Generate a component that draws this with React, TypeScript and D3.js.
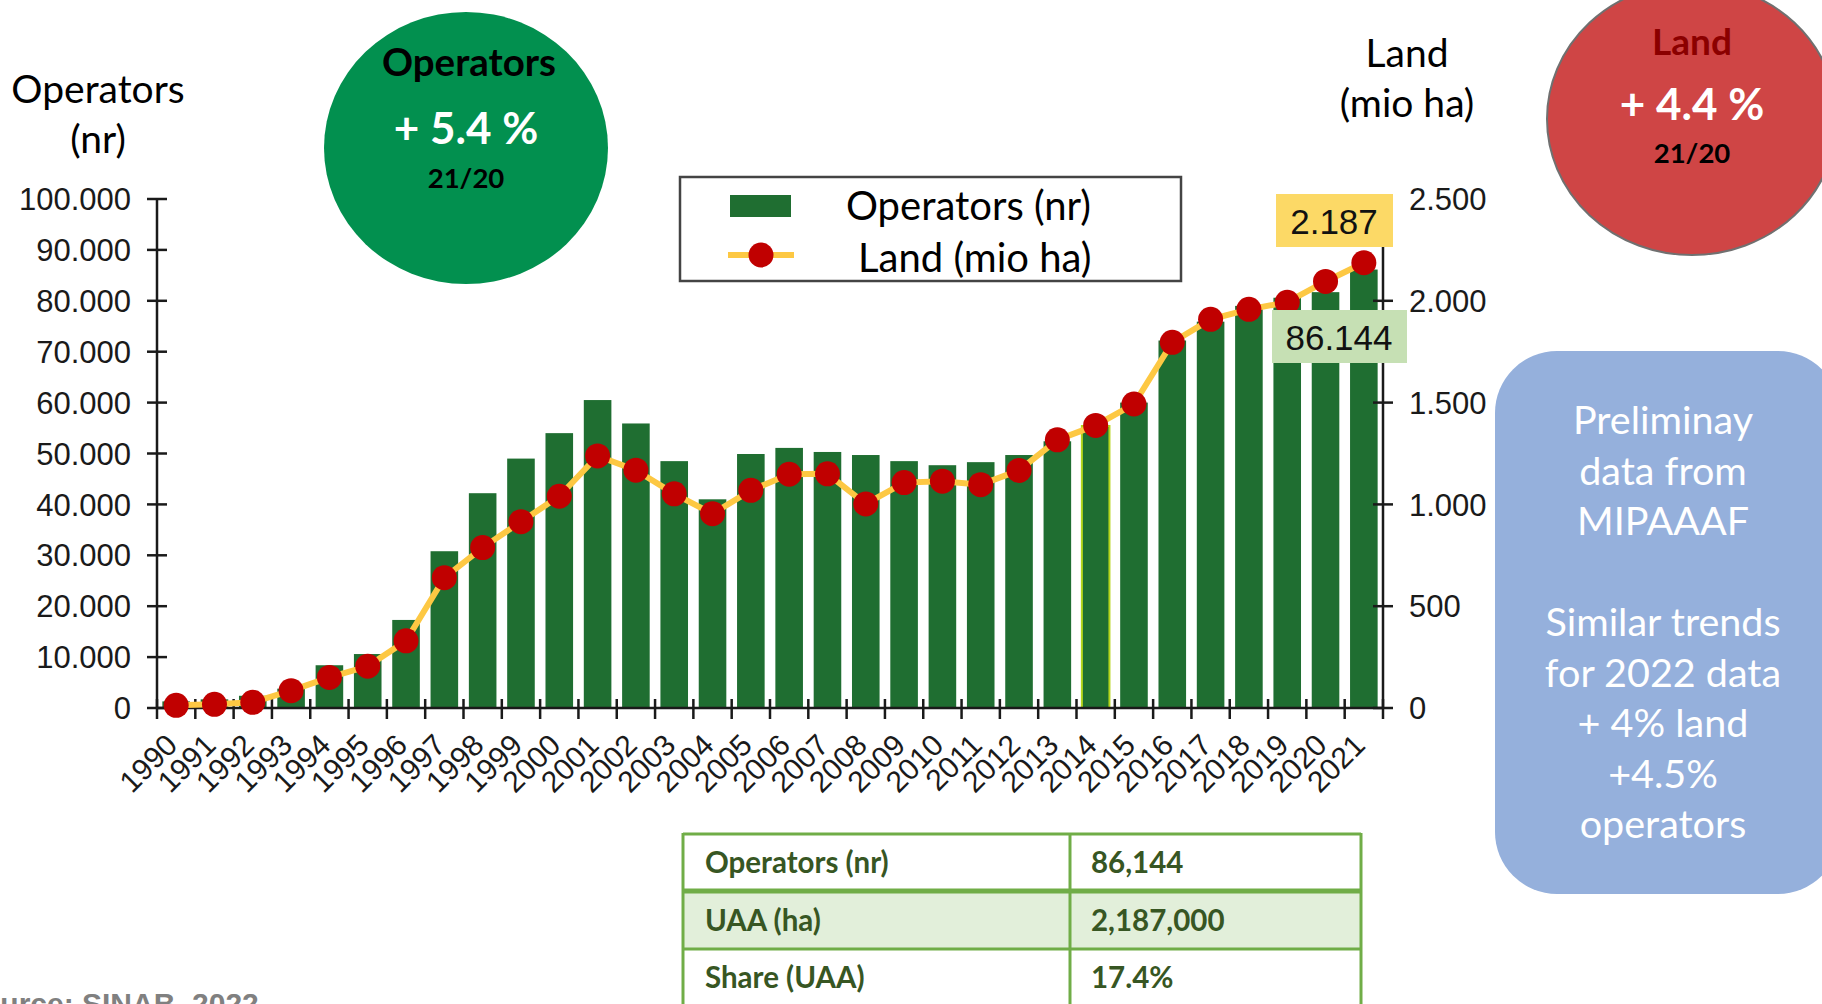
import React from 'react';
import * as d3 from 'd3';

// organic operators and land in Italy, 1990-2021
const years = ['1990', '1991', '1992', '1993', '1994', '1995', '1996', '1997', '1998', '1999',
  '2000', '2001', '2002', '2003', '2004', '2005', '2006', '2007', '2008', '2009', '2010',
  '2011', '2012', '2013', '2014', '2015', '2016', '2017', '2018', '2019', '2020', '2021'];
const operators = [1300, 1700, 2400, 3800, 8400, 10600, 17300, 30800, 42200, 49000,
  54000, 60500, 55900, 48500, 41000, 49900, 51100, 50300, 49700, 48500, 47700,
  48300, 49700, 52400, 55400, 60000, 72200, 75900, 79000, 80600, 81700, 86144];
const land = [13, 18, 28, 85, 150, 205, 330, 640, 788, 915,
  1040, 1238, 1168, 1052, 954, 1069, 1148, 1150, 1002, 1107, 1114,
  1097, 1167, 1317, 1388, 1493, 1796, 1909, 1958, 1993, 2095, 2187];
const leftTicks = [0, 10000, 20000, 30000, 40000, 50000, 60000, 70000, 80000, 90000, 100000];
const rightTicks = [0, 500, 1000, 1500, 2000, 2500];

const tableRows = ['Operators (nr)', 'UAA (ha)', 'Share (UAA)'];
const tableValues = ['86,144', '2,187,000', '17.4%'];
const noteLines = ['Preliminay', 'data from', 'MIPAAAF', '', 'Similar trends', 'for 2022 data', '+ 4% land', '+4.5%', 'operators'];

const calibri = 'Lato, "Open Sans", sans-serif';
const arial = '"Liberation Sans", Arial, sans-serif';

const itFormat = d3.formatLocale({decimal: ',', thousands: '.', grouping: [3], currency: ['', '']}).format(',');

export default function App() {
  const W = 1822, H = 1004;
  const top = 199, bottom = 708, left = 157, right = 1383;

  const x = d3.scaleBand().domain(years).range([left, right]).paddingInner(0.28).paddingOuter(0.14);
  const yL = d3.scaleLinear().domain([0, 100000]).range([bottom, top]);
  const yR = d3.scaleLinear().domain([0, 2500]).range([bottom, top]);
  const cx = (y) => x(y) + x.bandwidth() / 2;

  // tick positions between bars
  const edges = years.map((y) => cx(y) - x.step() / 2).concat([right]);

  const line = d3.line().x((d, i) => cx(years[i])).y((d) => yR(d));

  const last = years.length - 1;

  return (
    <svg width={W} height={H} style={{position: 'absolute', left: 0, top: 0, background: '#fff'}}>
      {/* bubbles */}
      <ellipse cx={466} cy={148} rx={142} ry={136} fill="#02904f" />
      <text x={469} y={76} textAnchor="middle" fontFamily={calibri} fontWeight="bold" fontSize={38.5} fill="#000">Operators</text>
      <text x={466} y={144} textAnchor="middle" fontFamily={calibri} fontWeight="bold" fontSize={44} fill="#fff">+ 5.4 %</text>
      <text x={466} y={188} textAnchor="middle" fontFamily={calibri} fontWeight="bold" fontSize={27.5} fill="#000">21/20</text>

      <ellipse cx={1692} cy={119} rx={145} ry={136} fill="#cf4545" stroke="#707070" strokeWidth={2} />
      <text x={1692} y={55} textAnchor="middle" fontFamily={calibri} fontWeight="bold" fontSize={37} fill="#8b0000">Land</text>
      <text x={1692} y={120} textAnchor="middle" fontFamily={calibri} fontWeight="bold" fontSize={44} fill="#fff">+ 4.4 %</text>
      <text x={1692} y={163} textAnchor="middle" fontFamily={calibri} fontWeight="bold" fontSize={27.5} fill="#000">21/20</text>

      {/* axis titles */}
      <text x={98} y={103} textAnchor="middle" fontFamily={calibri} fontSize={39} fill="#000">Operators</text>
      <text x={98} y={153} textAnchor="middle" fontFamily={calibri} fontSize={39} fill="#000">(nr)</text>
      <text x={1407} y={67} textAnchor="middle" fontFamily={calibri} fontSize={39} fill="#000">Land</text>
      <text x={1407} y={117} textAnchor="middle" fontFamily={calibri} fontSize={39} fill="#000">(mio ha)</text>

      {/* bars */}
      {operators.map((v, i) => (
        <rect key={years[i]} x={x(years[i])} y={yL(v)} width={x.bandwidth()} height={bottom - yL(v)}
          fill="#1f6e31" stroke={years[i] === '2014' ? '#b5d51c' : 'none'} strokeWidth={2} />
      ))}

      {/* axes */}
      <g stroke="#1a1a1a" strokeWidth={2.5}>
        <line x1={left} x2={left} y1={top} y2={bottom} />
        <line x1={right} x2={right} y1={top} y2={bottom} />
        <line x1={left} x2={right} y1={bottom} y2={bottom} />
        {leftTicks.map((t) => <line key={t} x1={left - 10} x2={left + 10} y1={yL(t)} y2={yL(t)} />)}
        {rightTicks.map((t) => <line key={t} x1={right - 10} x2={right + 10} y1={yR(t)} y2={yR(t)} />)}
        {edges.map((e, i) => <line key={i} x1={e} x2={e} y1={bottom - 9} y2={bottom + 11} />)}
      </g>
      {leftTicks.map((t) => (
        <text key={t} x={left - 26} y={yL(t)} dy="0.36em" textAnchor="end" fontFamily={arial} fontSize={31} fill="#1a1a1a">{itFormat(t)}</text>
      ))}
      {rightTicks.map((t) => (
        <text key={t} x={right + 26} y={yR(t)} dy="0.36em" textAnchor="start" fontFamily={arial} fontSize={31} fill="#1a1a1a">{itFormat(t)}</text>
      ))}
      {years.map((y) => (
        <text key={y} transform={`translate(${cx(y) + 3},${bottom + 39}) rotate(-45)`} textAnchor="end"
          fontFamily={arial} fontSize={30} fill="#1a1a1a">{y}</text>
      ))}

      {/* land line */}
      <path d={line(land)} fill="none" stroke="#fdc843" strokeWidth={6} />
      {land.map((v, i) => <circle key={years[i]} cx={cx(years[i])} cy={yR(v)} r={12.5} fill="#c00000" />)}

      {/* value labels for 2021 */}
      <rect x={1276} y={194} width={117} height={53} fill="#fcd966" />
      <text x={1334} y={221} dy="0.36em" textAnchor="middle" fontFamily={arial} fontSize={35} fill="#111">{itFormat(land[last])}</text>
      <rect x={1272} y={310} width={135} height={53} fill="#c6e0b4" />
      <text x={1339} y={337} dy="0.36em" textAnchor="middle" fontFamily={arial} fontSize={35} fill="#111">{itFormat(operators[last])}</text>

      {/* legend */}
      <rect x={680} y={177} width={501} height={104} fill="#fff" stroke="#444" strokeWidth={2.5} />
      <rect x={730} y={195} width={61} height={22} fill="#1f6e31" />
      <text x={846} y={220} fontFamily={calibri} fontSize={40} fill="#000">Operators (nr)</text>
      <line x1={728} x2={794} y1={255} y2={255} stroke="#fdc843" strokeWidth={6} />
      <circle cx={761} cy={255} r={12.5} fill="#c00000" />
      <text x={858} y={272} fontFamily={calibri} fontSize={40} fill="#000">Land (mio ha)</text>

      {/* note box */}
      <rect x={1495} y={351} width={345} height={543} rx={62} fill="#95b0dc" />
      {noteLines.map((t, i) => (
        <text key={i} x={1663} y={434 + i * 50.5} textAnchor="middle" fontFamily={calibri} fontSize={39.5} fill="#fff">{t}</text>
      ))}

      {/* summary table */}
      <rect x={683} y={891} width={678} height={58} fill="#e2efda" />
      <g stroke="#70ad47" strokeWidth={3}>
        <line x1={683} x2={683} y1={833} y2={1004} />
        <line x1={1070} x2={1070} y1={833} y2={1004} />
        <line x1={1361} x2={1361} y1={833} y2={1004} />
        <line x1={683} x2={1361} y1={834} y2={834} />
        <line x1={683} x2={1361} y1={891} y2={891} strokeWidth={5} />
        <line x1={683} x2={1361} y1={949} y2={949} />
      </g>
      {tableRows.map((t, i) => (
        <g key={t}>
          <text x={705} y={873 + i * 57.5} fontFamily={calibri} fontWeight="bold" fontSize={29.5} fill="#375623">{t}</text>
          <text x={1091} y={873 + i * 57.5} fontFamily={calibri} fontWeight="bold" fontSize={29.5} fill="#375623">{tableValues[i]}</text>
        </g>
      ))}

      {/* source */}
      <text x={-38} y={1014} fontFamily={arial} fontWeight="bold" fontSize={30} fill="#808080">Source: SINAB, 2022</text>
    </svg>
  );
}
